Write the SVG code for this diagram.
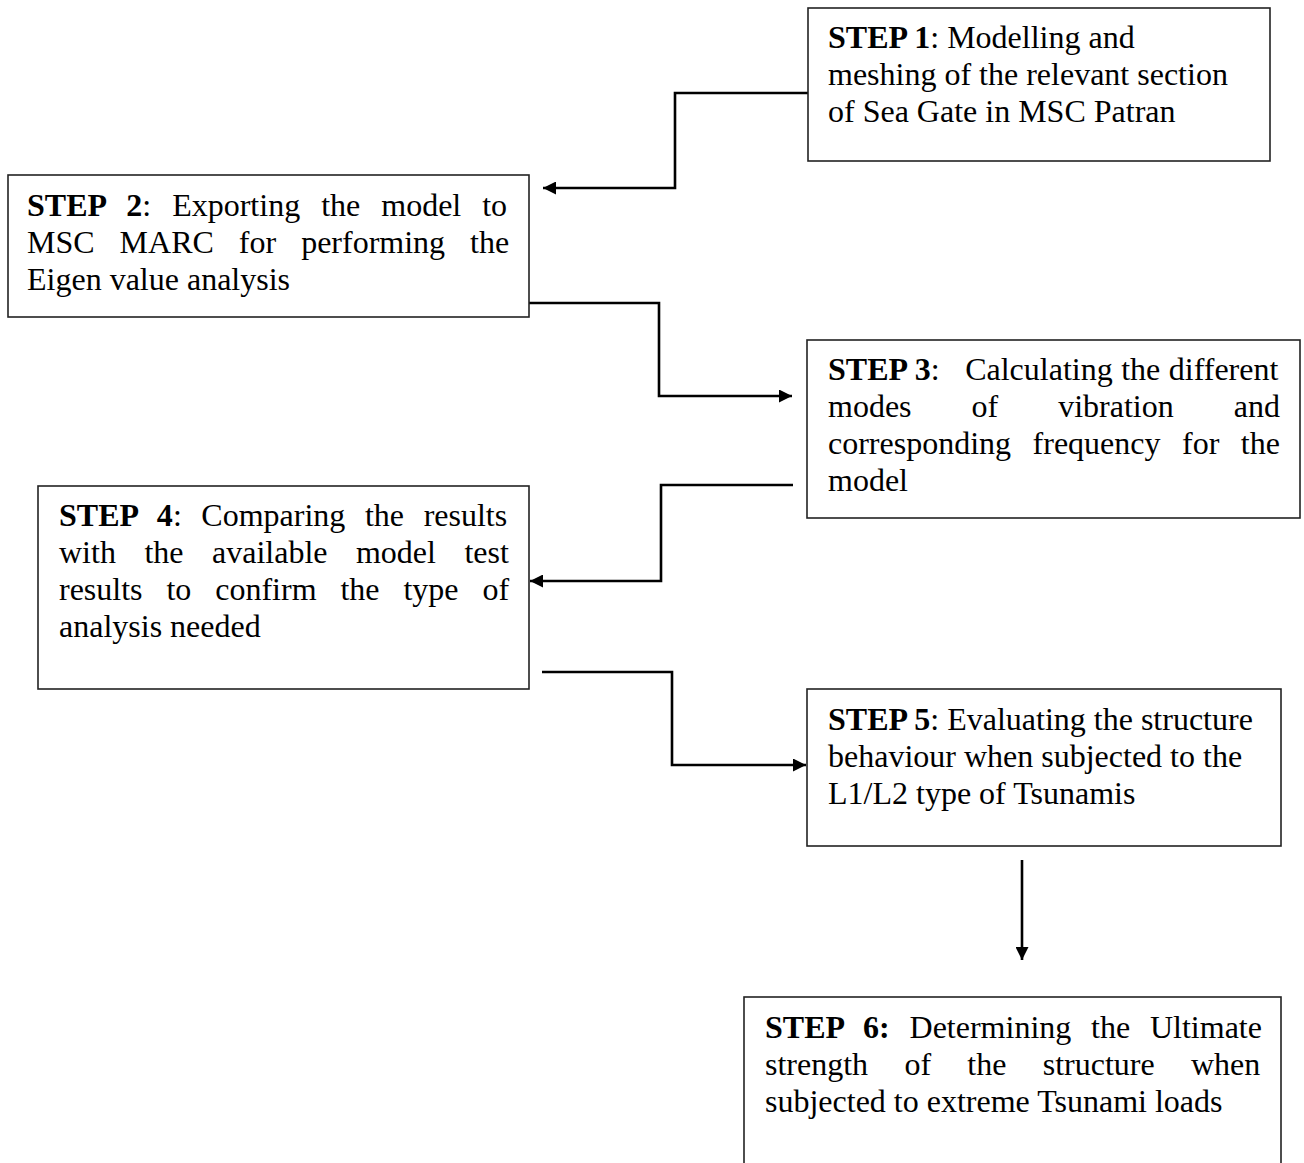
<svg xmlns="http://www.w3.org/2000/svg" width="1304" height="1163" viewBox="0 0 1304 1163">
<style>
.box{fill:#fff;stroke:#222;stroke-width:1.6}
.t{font-family:"Liberation Serif","Times New Roman",serif;font-size:32px;fill:#000}
.b{font-weight:bold}
.c{fill:none;stroke:#000;stroke-width:2.6}
</style>
<defs>
<marker id="arr" viewBox="0 0 10 10" refX="10" refY="5" markerWidth="15" markerHeight="13" markerUnits="userSpaceOnUse" orient="auto">
<path d="M0,0 L10,5 L0,10 Z" fill="#000"/>
</marker>
</defs>
<rect width="1304" height="1163" fill="#fff"/>
<g id="connectors">
<path class="c" d="M808,93 H675 V188 H543" marker-end="url(#arr)"/>
<path class="c" d="M529,303 H659 V396 H792" marker-end="url(#arr)"/>
<path class="c" d="M793,485 H661 V581 H530" marker-end="url(#arr)"/>
<path class="c" d="M542,672 H672 V765 H806" marker-end="url(#arr)"/>
<path class="c" d="M1022,860 V960" marker-end="url(#arr)"/>
</g>
<g id="step1">
<rect class="box" x="808" y="8" width="462" height="153"/>
<text class="t" x="828" y="48"><tspan class="b">STEP 1</tspan>: Modelling and</text>
<text class="t" x="828" y="85">meshing of the relevant section</text>
<text class="t" x="828" y="122">of Sea Gate in MSC Patran</text>
</g>
<g id="step2">
<rect class="box" x="8" y="175" width="521" height="142"/>
<text class="t" x="27" y="216" word-spacing="13"><tspan class="b">STEP 2</tspan>: Exporting the model to</text>
<text class="t" x="27" y="253" word-spacing="17">MSC MARC for performing the</text>
<text class="t" x="27" y="290">Eigen value analysis</text>
</g>
<g id="step3">
<rect class="box" x="807" y="340" width="493" height="178"/>
<text class="t" x="828" y="380" word-spacing="0.5" xml:space="preserve"><tspan class="b">STEP 3</tspan>:   Calculating the different</text>
<text class="t" x="828" y="417" word-spacing="52">modes of vibration and</text>
<text class="t" x="828" y="454" word-spacing="13.5">corresponding frequency for the</text>
<text class="t" x="828" y="491">model</text>
</g>
<g id="step4">
<rect class="box" x="38" y="486" width="491" height="203"/>
<text class="t" x="59" y="526" word-spacing="11.6"><tspan class="b">STEP 4</tspan>: Comparing the results</text>
<text class="t" x="59" y="563" word-spacing="20.5">with the available model test</text>
<text class="t" x="59" y="600" word-spacing="15.9">results to confirm the type of</text>
<text class="t" x="59" y="637">analysis needed</text>
</g>
<g id="step5">
<rect class="box" x="807" y="689" width="474" height="157"/>
<text class="t" x="828" y="730"><tspan class="b">STEP 5</tspan>: Evaluating the structure</text>
<text class="t" x="828" y="767">behaviour when subjected to the</text>
<text class="t" x="828" y="804">L1/L2 type of Tsunamis</text>
</g>
<g id="step6">
<rect class="box" x="744" y="997" width="537" height="180"/>
<text class="t" x="765" y="1038" word-spacing="11.8"><tspan class="b">STEP 6:</tspan> Determining the Ultimate</text>
<text class="t" x="765" y="1075" word-spacing="28.3">strength of the structure when</text>
<text class="t" x="765" y="1112">subjected to extreme Tsunami loads</text>
</g>
</svg>
